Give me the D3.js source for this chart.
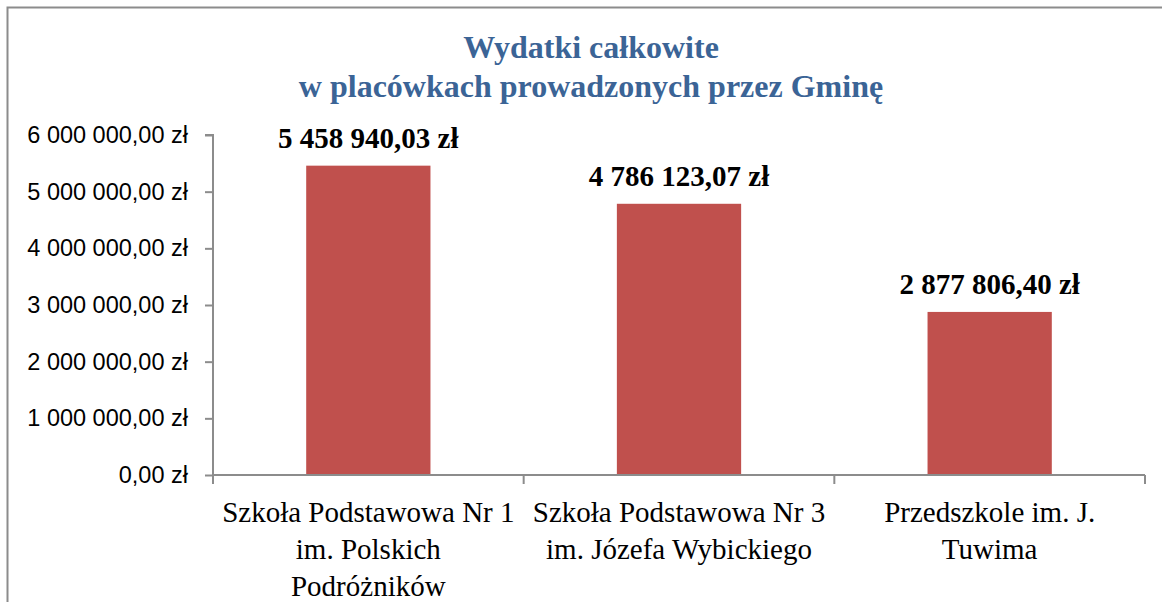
<!DOCTYPE html>
<html>
<head>
<meta charset="utf-8">
<script src="https://cdn.jsdelivr.net/npm/d3@7"></script>
<style>
  html, body { margin: 0; padding: 0; background: #fff; }
  svg { display: block; }
</style>
</head>
<body>
<div id="chart"></div>
<script>
var categories = [
  ['Szkoła Podstawowa Nr 1', 'im. Polskich', 'Podróżników'],
  ['Szkoła Podstawowa Nr 3', 'im. Józefa Wybickiego'],
  ['Przedszkole im. J.', 'Tuwima']
];
var values = [5458940.03, 4786123.07, 2877806.40];
var labels = ['5 458 940,03 zł', '4 786 123,07 zł', '2 877 806,40 zł'];
var yTicks = [0, 1000000, 2000000, 3000000, 4000000, 5000000, 6000000];
var titleLines = ['Wydatki całkowite', 'w placówkach prowadzonych przez Gminę'];

var W = 1162, H = 602;
var plotL = 213, plotR = 1145, plotT = 135, plotB = 475;

var svg = d3.select('#chart').append('svg')
  .attr('width', W).attr('height', H);

// outer frame (only top and left visible)
svg.append('path')
  .attr('d', 'M7.5,' + H + 'V7.5H' + W)
  .attr('fill', 'none')
  .attr('stroke', '#8c8c8c')
  .attr('stroke-width', 2);

// title
svg.selectAll('.title').data(titleLines).enter().append('text')
  .attr('class', 'title')
  .attr('x', 591)
  .attr('y', function(d, i) { return 58 + i * 39; })
  .attr('text-anchor', 'middle')
  .attr('font-family', '"Liberation Serif", "Times New Roman", serif')
  .attr('font-weight', 'bold')
  .attr('font-size', 32)
  .attr('fill', '#3b6496')
  .text(function(d) { return d; });

var x = d3.scaleBand()
  .domain(d3.range(categories.length))
  .range([plotL, plotR])
  .paddingInner(0.6)
  .paddingOuter(0.3);

var band = (plotR - plotL) / categories.length;

var y = d3.scaleLinear().domain([0, 6000000]).range([plotB, plotT]);

// y axis
var yAxis = d3.axisLeft(y)
  .tickValues(yTicks)
  .tickSize(8)
  .tickPadding(17)
  .tickFormat(function(d) {
    var s = d3.format(',.2f')(d).replace(/,/g, ' ').replace('.', ',');
    return s + ' zł';
  });

var gy = svg.append('g')
  .attr('transform', 'translate(' + plotL + ',0)')
  .call(yAxis);
gy.select('.domain').attr('stroke', '#8c8c8c').attr('stroke-width', 2)
  .attr('d', 'M-8,' + plotT + 'H0V' + plotB);
gy.selectAll('.tick line').attr('stroke', '#8c8c8c').attr('stroke-width', 2);
gy.selectAll('.tick text')
  .attr('font-family', '"Liberation Sans", Arial, sans-serif')
  .attr('font-size', 23.5)
  .attr('fill', '#000');

// bars
svg.selectAll('.bar').data(values).enter().append('rect')
  .attr('class', 'bar')
  .attr('x', function(d, i) { return x(i); })
  .attr('width', x.bandwidth())
  .attr('y', function(d) { return y(d); })
  .attr('height', function(d) { return plotB - y(d); })
  .attr('fill', '#c0504d');

// x axis
var xLine = svg.append('g').attr('class', 'xaxis');
xLine.append('line')
  .attr('x1', plotL).attr('x2', plotR)
  .attr('y1', plotB).attr('y2', plotB)
  .attr('stroke', '#8c8c8c').attr('stroke-width', 2);
xLine.selectAll('.xt').data(d3.range(categories.length + 1)).enter().append('line')
  .attr('x1', function(d) { return plotL + d * band; })
  .attr('x2', function(d) { return plotL + d * band; })
  .attr('y1', plotB).attr('y2', plotB + 9)
  .attr('stroke', '#8c8c8c').attr('stroke-width', 2);

// category labels
var cat = svg.selectAll('.cat').data(categories).enter().append('text')
  .attr('class', 'cat')
  .attr('text-anchor', 'middle')
  .attr('font-family', '"Liberation Serif", "Times New Roman", serif')
  .attr('font-size', 29)
  .attr('fill', '#000');
cat.selectAll('tspan').data(function(d, i) { return d.map(function(t) { return {t: t, i: i}; }); })
  .enter().append('tspan')
  .attr('x', function(d) { return x(d.i) + x.bandwidth() / 2; })
  .attr('y', function(d, j) { return 522 + j * 37; })
  .text(function(d) { return d.t; });

// value labels
svg.selectAll('.val').data(values).enter().append('text')
  .attr('class', 'val')
  .attr('x', function(d, i) { return x(i) + x.bandwidth() / 2; })
  .attr('y', function(d) { return y(d) - 18; })
  .attr('text-anchor', 'middle')
  .attr('font-family', '"Liberation Serif", "Times New Roman", serif')
  .attr('font-weight', 'bold')
  .attr('font-size', 29)
  .attr('fill', '#000')
  .text(function(d, i) { return labels[i]; });
</script>
</body>
</html>
